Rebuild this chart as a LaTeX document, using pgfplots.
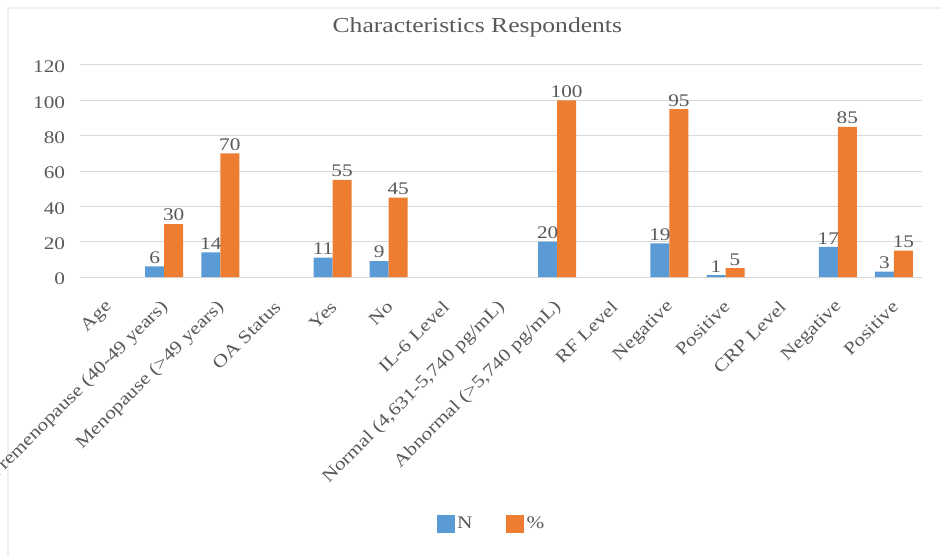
\documentclass[border=0pt]{standalone}
\usepackage{fontspec}
\setmainfont{Liberation Serif}[FakeStretch=1.2]
\usepackage{pgfplots}
\pgfplotsset{compat=1.18}
\definecolor{txt}{HTML}{595959}
\definecolor{gridc}{HTML}{D9D9D9}
\definecolor{cN}{HTML}{5B9BD5}
\definecolor{cP}{HTML}{ED7D31}
\newcommand{\tf}{\fontsize{13.3pt}{15pt}\selectfont}
\begin{document}
\begin{tikzpicture}
\path[use as bounding box] (0,0) rectangle (705.75pt,417.75pt);
\draw[color=black!6, line width=1.5pt] (6pt,0) -- (6pt,411.75pt) -- (705.75pt,411.75pt);
\node[font=\fontsize{16pt}{19pt}\selectfont, text=txt] at (358pt,397pt) {Characteristics Respondents};
\begin{axis}[
  at={(60pt,210pt)}, anchor=south west,
  scale only axis, width=631.5pt, height=159pt,
  ymin=0, ymax=120, ytick={0,20,...,120},
  xmin=-0.5, xmax=14.5, enlargelimits=false,
  xtick={0,...,14},
  xticklabels={Age,Premenopause (40-49 years),Menopause (>49 years),OA Status,Yes,No,IL-6 Level,{Normal (4,631-5,740 pg/mL)},{Abnormal (>5,740 pg/mL)},RF Level,Negative,Positive,CRP Level,Negative,Positive},
  ymajorgrids, grid style={gridc, line width=0.75pt},
  axis line style={draw=none}, major tick style={draw=none},
  /pgf/number format/assume math mode=true,
  ticklabel style={font=\tf, text=txt},
  yticklabel style={anchor=east, inner sep=0pt, xshift=-11pt, yshift=-1.5pt},
  xticklabel style={xshift=1pt, yshift=-16pt, rotate=45, anchor=east, inner sep=0pt},
  ybar=0pt, bar width=14.25pt,
  nodes near coords,
  every node near coord/.append style={font=\tf, text=txt, inner sep=2pt},
  legend columns=2,
  legend style={at={(0.489,-1.165)}, anchor=center, draw=none, fill=none, font=\tf, text=txt,
    /tikz/every even column/.append style={column sep=23pt}},
  legend image code/.code={\fill[#1] (0pt,-6.75pt) rectangle (13.5pt,6.75pt);},
]
\addplot[draw=none, fill=cN] coordinates {(1,6) (2,14) (4,11) (5,9) (8,20) (10,19) (11,1) (13,17) (14,3)};
\addlegendentry{N}
\addplot[draw=none, fill=cP] coordinates {(1,30) (2,70) (4,55) (5,45) (8,100) (10,95) (11,5) (13,85) (14,15)};
\addlegendentry{\%}
\end{axis}
\end{tikzpicture}
\end{document}
